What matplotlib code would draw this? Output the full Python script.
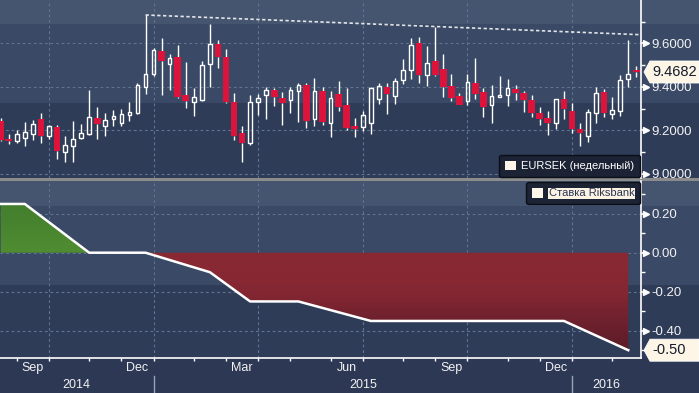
import numpy as np
import pandas as pd
import matplotlib
matplotlib.use("Agg")
import matplotlib.pyplot as plt
import matplotlib.transforms as mtransforms
from matplotlib.colors import LinearSegmentedColormap
from matplotlib.patches import Rectangle, Polygon, Patch

plt.rcParams['font.family'] = ['Liberation Sans', 'DejaVu Sans']

# weekly EURSEK bars (Friday dates)
weeks = pd.date_range('2014-08-22', periods=80, freq='W-FRI')
opens = [9.243, 9.161, 9.153, 9.167, 9.185, 9.253, 9.176, 9.216, 9.103, 9.130,
         9.164, 9.185, 9.257, 9.222, 9.251, 9.236, 9.272, 9.280, 9.401, 9.461,
         9.565, 9.507, 9.536, 9.361, 9.332, 9.338, 9.504, 9.598, 9.537, 9.331,
         9.188, 9.144, 9.329, 9.364, 9.386, 9.349, 9.338, 9.383, 9.407, 9.251,
         9.380, 9.236, 9.367, 9.315, 9.221, 9.217, 9.236, 9.346, 9.398, 9.360,
         9.433, 9.479, 9.600, 9.456, 9.517, 9.481, 9.404, 9.357, 9.334, 9.416,
         9.377, 9.315, 9.355, 9.361, 9.389, 9.370, 9.340, 9.279, 9.257, 9.233,
         9.343, 9.288, 9.205, 9.173, 9.279, 9.377, 9.274, 9.288, 9.435, 9.476]
highs = [9.256, 9.182, 9.202, 9.239, 9.248, 9.282, 9.224, 9.225, 9.175, 9.243,
         9.230, 9.386, 9.308, 9.280, 9.294, 9.299, 9.331, 9.418, 9.730, 9.577,
         9.624, 9.551, 9.594, 9.514, 9.395, 9.517, 9.689, 9.615, 9.574, 9.372,
         9.221, 9.363, 9.367, 9.401, 9.396, 9.377, 9.398, 9.418, 9.418, 9.441,
         9.398, 9.381, 9.427, 9.395, 9.257, 9.289, 9.398, 9.418, 9.418, 9.441,
         9.528, 9.624, 9.629, 9.589, 9.677, 9.551, 9.459, 9.370, 9.459, 9.533,
         9.395, 9.409, 9.450, 9.436, 9.409, 9.381, 9.363, 9.306, 9.288, 9.344,
         9.381, 9.328, 9.233, 9.297, 9.398, 9.389, 9.352, 9.453, 9.615, 9.497]
lows = [9.152, 9.136, 9.144, 9.129, 9.156, 9.142, 9.161, 9.069, 9.055, 9.055,
        9.161, 9.180, 9.162, 9.176, 9.221, 9.221, 9.245, 9.276, 9.367, 9.450,
        9.363, 9.386, 9.350, 9.305, 9.268, 9.335, 9.401, 9.487, 9.328, 9.156,
        9.055, 9.135, 9.271, 9.254, 9.312, 9.225, 9.282, 9.240, 9.213, 9.222,
        9.225, 9.171, 9.291, 9.204, 9.171, 9.199, 9.185, 9.323, 9.277, 9.323,
        9.415, 9.438, 9.419, 9.404, 9.452, 9.354, 9.337, 9.315, 9.318, 9.346,
        9.263, 9.236, 9.354, 9.314, 9.341, 9.286, 9.260, 9.227, 9.181, 9.205,
        9.251, 9.190, 9.129, 9.149, 9.236, 9.260, 9.254, 9.268, 9.400, 9.444]
closes = [9.156, 9.152, 9.182, 9.191, 9.228, 9.176, 9.219, 9.107, 9.133, 9.161,
          9.187, 9.260, 9.231, 9.246, 9.265, 9.274, 9.283, 9.407, 9.458, 9.568,
          9.519, 9.531, 9.354, 9.335, 9.352, 9.499, 9.597, 9.539, 9.332, 9.176,
          9.142, 9.331, 9.349, 9.386, 9.354, 9.328, 9.386, 9.407, 9.245, 9.381,
          9.240, 9.347, 9.308, 9.213, 9.207, 9.269, 9.393, 9.403, 9.369, 9.426,
          9.476, 9.591, 9.456, 9.508, 9.456, 9.400, 9.351, 9.318, 9.421, 9.369,
          9.309, 9.357, 9.361, 9.393, 9.370, 9.341, 9.282, 9.254, 9.233, 9.343,
          9.297, 9.205, 9.187, 9.283, 9.370, 9.282, 9.292, 9.433, 9.458, 9.4682]

# Riksbank repo rate, turning points of the drawn line
rate_dates = pd.to_datetime(['2014-08-22', '2014-09-12', '2014-11-07', '2014-12-26',
                             '2015-02-20', '2015-03-27', '2015-05-08', '2015-07-10',
                             '2015-12-25', '2016-02-19'])
rate_vals = [0.25, 0.25, 0.0, 0.0, -0.10, -0.25, -0.25, -0.35, -0.35, -0.50]

trend_bars = [18, 54]   # bars whose highs the dotted resistance line touches

W, H = 699, 393
BAR_PX = 8.046
x_left = -0.7 / BAR_PX
x_right = (641 - 0.7) / BAR_PX
grid_kw = dict(color='#5d7592', lw=0.8, ls=(0, (2.5, 2.5)), zorder=0.5)
txt_col = '#f2f2f2'

fig = plt.figure(figsize=(W / 100, H / 100), dpi=100)
fig.patch.set_facecolor('#2c3854')

# background bands (pixel rows from the top)
bands = [(0, 24, '#45556f'), (24, 103, '#3a4965'), (103, 178, '#2f3c58'),
         (178, 181, '#8c8c8c'),
         (181, 206, '#45556f'), (206, 285, '#3a4965'), (285, 358, '#2f3c58'),
         (358, 393, '#2c3854')]
for y0, y1, col in bands:
    fig.add_artist(Rectangle((0, 1 - y1 / H), 1, (y1 - y0) / H, transform=fig.transFigure,
                             facecolor=col, edgecolor='none', zorder=-10))

ax1 = fig.add_axes([0, 1 - 178 / H, 641 / W, 178 / H])
ax2 = fig.add_axes([0, 1 - 358 / H, 641 / W, 177 / H])
ylims = {ax1: (8.9815, 9.7988), ax2: (-0.54, 0.3677)}

x = np.arange(len(weeks))
month = weeks.month
month_starts = [i for i in range(1, len(weeks)) if month[i] != month[i - 1]]
quarter_starts = [i for i in month_starts if month[i] in (1, 4, 7, 10)]
year_starts = [i for i in month_starts if month[i] == 1]

for ax in (ax1, ax2):
    ax.set_facecolor('none')
    for s in ('left', 'top', 'bottom'):
        ax.spines[s].set_visible(False)
    ax.spines['right'].set_color('white')
    ax.spines['right'].set_linewidth(1.2)
    ax.yaxis.tick_right()
    for q in quarter_starts:
        ax.axvline(q, **grid_kw)

# ---- candles
o, hi, lo, c = map(np.array, (opens, highs, lows, closes))
up = c >= o
b_lo = np.minimum(o, c)
b_hi = np.maximum(o, c)
ax1.vlines(x, b_hi, hi, color='white', lw=1.0, zorder=2)
ax1.vlines(x, lo, b_lo, color='white', lw=1.0, zorder=2)
ax1.bar(x[up], (b_hi - b_lo)[up], bottom=b_lo[up], width=0.45,
        facecolor='none', edgecolor='white', linewidth=1.0, zorder=3)
ax1.bar(x[~up], (b_hi - b_lo)[~up], bottom=b_lo[~up], width=0.83,
        color='#dc143c', linewidth=0, zorder=3)

i1, i2 = trend_bars
slope = (hi[i2] - hi[i1]) / (i2 - i1)
ax1.plot([i1, x_right], [hi[i1], hi[i1] + slope * (x_right - i1)],
         color='white', lw=1.2, ls=(0, (2, 1.5)), alpha=0.85, zorder=2)

# ---- rate panel
rx = weeks.get_indexer(rate_dates)
ry = np.array(rate_vals)
pos = ax2.fill_between(rx, ry, 0, where=ry >= 0, interpolate=True, color='none', lw=0)
neg = ax2.fill_between(rx, ry, 0, where=ry <= 0, interpolate=True, color='none', lw=0)

green = LinearSegmentedColormap.from_list('g', ['#508d31', '#3c772b'])
red = LinearSegmentedColormap.from_list('r', [(0, '#581a27'), (0.4, '#72222f'),
                                               (0.62, '#852732'), (1, '#8a2934')])
grad = np.linspace(1, 0, 256).reshape(-1, 1)
im_g = ax2.imshow(grad, extent=[x_left, x_right, 0, 0.3677], aspect='auto',
                  cmap=green, origin='upper', zorder=1)
im_g.set_clip_path(pos.get_paths()[0], transform=ax2.transData)
im_r = ax2.imshow(grad, extent=[x_left, x_right, -0.54, 0], aspect='auto',
                  cmap=red, origin='upper', zorder=1)
im_r.set_clip_path(neg.get_paths()[0], transform=ax2.transData)
ax2.plot(rx, ry, color='white', lw=1.8, zorder=4)

# ---- y axes
yt = {ax1: [9.0, 9.2, 9.4, 9.6], ax2: [-0.4, -0.2, 0.0, 0.2]}
ym = {ax1: [9.1, 9.3, 9.5, 9.7], ax2: [-0.5, -0.3, -0.1, 0.1, 0.3]}
fmt = {ax1: '{:.4f}', ax2: '{:.2f}'}
for ax in (ax1, ax2):
    ax.set_yticks(yt[ax])
    ax.set_yticklabels([fmt[ax].format(v) for v in yt[ax]])
    ax.set_yticks(ym[ax], minor=True)
    ax.grid(axis='y', which='major', **{k: v for k, v in grid_kw.items() if k != 'zorder'})
    ax.set_axisbelow(True)
    ax.tick_params(axis='y', which='major', direction='out', length=4, width=1.2,
                   color='white', labelcolor=txt_col, labelsize=9.5, pad=3.5)
    ax.tick_params(axis='y', which='minor', direction='out', length=3, width=1,
                   color='white')
    tri = mtransforms.offset_copy(ax.get_yaxis_transform(), fig=fig, x=5, y=0, units='dots')
    ax.plot([1] * len(yt[ax]), yt[ax], ls='none', marker='>', ms=4, color='white',
            transform=tri, clip_on=False)
    ax.set_xlim(x_left, x_right)
    ax.set_ylim(*ylims[ax])

# ---- x axis
ax1.tick_params(axis='x', which='both', length=0, labelbottom=False)
ax2.spines['bottom'].set_visible(True)
ax2.spines['bottom'].set_color('white')
ax2.spines['bottom'].set_linewidth(1.2)
ax2.set_xticks(month_starts)
ax2.set_xticklabels([])
ax2.tick_params(axis='x', which='major', direction='out', length=2.5, width=1, color='white')

label_pos, label_txt = [], []
for k, i in enumerate(month_starts[:-1]):
    if month[i] in (3, 6, 9, 12):
        label_pos.append((i + month_starts[k + 1]) / 2)
        label_txt.append(weeks[i].strftime('%b'))
ax2.set_xticks(label_pos, minor=True)
ax2.set_xticklabels(label_txt, minor=True)
ax2.tick_params(axis='x', which='minor', length=0, labelsize=9, labelcolor=txt_col, pad=3)

xt = ax2.get_xaxis_transform()
edges = [x_left] + year_starts + [x_right]
for k in range(len(edges) - 1):
    yr = weeks[year_starts[k]].year - 1 if k < len(year_starts) else weeks[-1].year
    ax2.text((edges[k] + edges[k + 1]) / 2, -0.153, str(yr), transform=xt,
             ha='center', va='center', fontsize=9, color=txt_col)
for ys in year_starts:
    ax2.plot([ys, ys], [-0.102, -0.2], transform=xt, color='#9aa3b4', lw=1, clip_on=False)

# ---- legends
leg_kw = dict(handlelength=1.0, handleheight=1.0, handletextpad=0.5, borderpad=0.5,
              borderaxespad=0.1, fontsize=8, fancybox=True, framealpha=1,
              facecolor='#1c2334', edgecolor='#0b0e16')
l1 = ax1.legend([Patch(facecolor='#fff6ea', edgecolor='none')], ['EURSEK (недельный)'],
                loc='lower right', labelcolor='white', **leg_kw)
l2 = ax2.legend([Patch(facecolor='#fff6ea', edgecolor='none')], ['Ставка Riksbank'],
                loc='upper right', labelcolor='#2a3552', **leg_kw)
l2.get_texts()[0].set_bbox(dict(facecolor='#fdf3e3', edgecolor='none', pad=0.6))
l1.set_zorder(10)
l2.set_zorder(10)


# ---- last value tags
def value_tag(ax, val, text):
    y0, y1 = ylims[ax]
    ppu = ax.get_position().height * H / (y1 - y0)
    hh = 11 / ppu
    tr = mtransforms.blended_transform_factory(fig.transFigure, ax.transData)
    verts = [(644 / W, val), (650 / W, val + hh), (1, val + hh), (1, val - hh), (650 / W, val - hh)]
    fig.add_artist(Polygon(verts, closed=True, transform=tr, facecolor='#fdf5e6',
                           edgecolor='white', lw=0.6, zorder=20))
    fig.text(652 / W, val, text, transform=tr, ha='left', va='center', fontsize=10.5,
             color='#141b2b', zorder=21)


value_tag(ax1, closes[-1], '{:.4f}'.format(closes[-1]))
value_tag(ax2, rate_vals[-1], '{:.2f}'.format(rate_vals[-1]))

fig.savefig('out.png', dpi=100, facecolor=fig.get_facecolor())
